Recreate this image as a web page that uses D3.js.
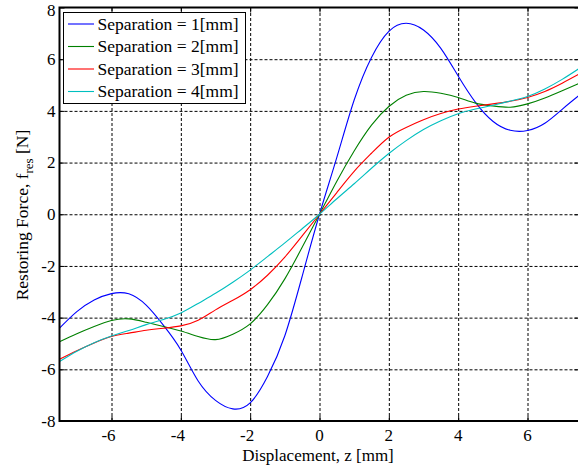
<!doctype html>
<html>
<head>
<meta charset="utf-8">
<script src="https://d3js.org/d3.v7.min.js"></script>
<style>
  body { margin: 0; background: #fff; }
  text { font-family: "Liberation Serif", "Times New Roman", serif; fill: #000; }
  .grid line { stroke: #000; stroke-width: 1; stroke-dasharray: 3,2; }
  .grid .domain { display: none; }
</style>
</head>
<body>
<script>
// displacement samples [mm]
var z = [-7.5, -7, -6.5, -6, -5.5, -5, -4.5, -4, -3.5, -3, -2.5, -2, -1.5, -1, -0.5, 0,
         0.5, 1, 1.5, 2, 2.5, 3, 3.5, 4, 4.5, 5, 5.5, 6, 6.5, 7, 7.5];

// restoring force [N] for each separation
var sep1 = [-4.41, -3.77, -3.32, -3.07, -3.08, -3.52, -4.3, -5.25, -6.45, -7.2, -7.53, -7.3, -6.28, -4.7, -2.4, 0,
            2.2, 4.42, 6.07, 7.08, 7.39, 7.13, 6.42, 5.35, 4.33, 3.6, 3.25, 3.24, 3.52, 4.06, 4.61];
var sep2 = [-4.93, -4.62, -4.34, -4.11, -4.05, -4.18, -4.34, -4.52, -4.73, -4.85, -4.64, -4.24, -3.5, -2.5, -1.28, 0,
            1.28, 2.45, 3.45, 4.17, 4.6, 4.75, 4.68, 4.52, 4.3, 4.19, 4.14, 4.27, 4.5, 4.78, 5.07];
var sep3 = [-5.61, -5.28, -4.98, -4.73, -4.6, -4.49, -4.41, -4.32, -4.1, -3.7, -3.33, -2.92, -2.36, -1.66, -0.84, 0,
            0.84, 1.66, 2.36, 2.98, 3.36, 3.66, 3.9, 4.07, 4.18, 4.27, 4.37, 4.52, 4.75, 5.07, 5.43];
var sep4 = [-5.7, -5.3, -4.97, -4.71, -4.5, -4.27, -4.07, -3.82, -3.45, -3.06, -2.63, -2.16, -1.64, -1.11, -0.56, 0,
            0.6, 1.18, 1.78, 2.35, 2.85, 3.28, 3.62, 3.89, 4.07, 4.22, 4.38, 4.56, 4.85, 5.22, 5.65];

var seriesNames = ["Separation = 1[mm]", "Separation = 2[mm]", "Separation = 3[mm]", "Separation = 4[mm]"];
var seriesColors = ["#0000ff", "#008000", "#ff0000", "#00bfbf"];
var xTicks = [-6, -4, -2, 0, 2, 4, 6];
var yTicks = [-8, -6, -4, -2, 0, 2, 4, 6, 8];

var W = 578, H = 467;
var pl = 59.5, pr = 579.5, pt = 7.5, pb = 421;
var fs = "17px";

var svg = d3.select("body").append("svg").attr("width", W).attr("height", H);

var x = d3.scaleLinear().domain([-7.5, 7.5]).range([pl, pr]);
var y = d3.scaleLinear().domain([-8, 8]).range([pb, pt]);

// grid
svg.append("g")
    .attr("class", "grid")
    .attr("transform", "translate(0," + pb + ")")
    .call(d3.axisBottom(x).tickValues(xTicks).tickSize(-(pb - pt)).tickFormat(""));
svg.append("g")
    .attr("class", "grid")
    .attr("transform", "translate(" + pl + ",0)")
    .call(d3.axisLeft(y).tickValues(yTicks.slice(1, -1)).tickSize(-(pr - pl)).tickFormat(""));

// series
var line = d3.line()
    .x(function(d){ return x(d[0]); })
    .y(function(d){ return y(d[1]); })
    .curve(d3.curveNatural);

svg.append("clipPath").attr("id", "clip")
  .append("rect").attr("x", pl).attr("y", pt).attr("width", pr - pl).attr("height", pb - pt);

[sep1, sep2, sep3, sep4].forEach(function(vals, i){
  svg.append("path")
      .datum(z.map(function(d, j){ return [d, vals[j]]; }))
      .attr("clip-path", "url(#clip)")
      .attr("fill", "none")
      .attr("stroke", seriesColors[i])
      .attr("stroke-width", 1.1)
      .attr("d", line);
});

// inner ticks on all sides
function ticks(g, axis){
  g.call(axis);
  g.select(".domain").remove();
  g.selectAll(".tick line").attr("stroke", "#000");
}
svg.append("g").attr("transform", "translate(0," + pb + ")")
    .call(ticks, d3.axisBottom(x).tickValues(xTicks).tickSize(-5).tickFormat(""));
svg.append("g").attr("transform", "translate(0," + pt + ")")
    .call(ticks, d3.axisTop(x).tickValues(xTicks).tickSize(-5).tickFormat(""));
svg.append("g").attr("transform", "translate(" + pl + ",0)")
    .call(ticks, d3.axisLeft(y).tickValues(yTicks).tickSize(-5).tickFormat(""));
svg.append("g").attr("transform", "translate(" + pr + ",0)")
    .call(ticks, d3.axisRight(y).tickValues(yTicks).tickSize(-5).tickFormat(""));

// frame
svg.append("rect")
    .attr("x", pl).attr("y", pt)
    .attr("width", pr - pl).attr("height", pb - pt)
    .attr("fill", "none").attr("stroke", "#000").attr("stroke-width", 2);

// tick labels
svg.append("g").selectAll("text")
  .data(xTicks).enter().append("text")
    .attr("x", function(d){ return x(d) - (d < 0 ? 3 : 0); })
    .attr("y", pb + 20)
    .attr("text-anchor", "middle")
    .style("font-size", fs)
    .text(function(d){ return d; });

// top label nudged down so it stays inside the picture
svg.append("g").selectAll("text")
  .data(yTicks).enter().append("text")
    .attr("x", pl - 4)
    .attr("y", function(d){ return Math.max(y(d), 10); })
    .attr("dy", "0.34em")
    .attr("text-anchor", "end")
    .style("font-size", fs)
    .text(function(d){ return d; });

// axis titles
svg.append("text")
    .attr("x", 318)
    .attr("y", 461)
    .attr("text-anchor", "middle")
    .style("font-size", fs)
    .text("Displacement, z [mm]");

var yt = svg.append("text")
    .attr("transform", "translate(28,215) rotate(-90)")
    .attr("text-anchor", "middle")
    .style("font-size", "17.5px");
yt.append("tspan").text("Restoring Force, f");
yt.append("tspan").attr("dy", 5).style("font-size", "13px").text("res");
yt.append("tspan").attr("dy", -5).text(" [N]");

// legend
var lg = svg.append("g");
lg.append("rect")
    .attr("x", 63.5).attr("y", 12.5)
    .attr("width", 182).attr("height", 91)
    .attr("fill", "#fff").attr("stroke", "#000").attr("stroke-width", 1);
seriesNames.forEach(function(name, i){
  var ry = 24 + i * 22.5;
  lg.append("line")
      .attr("x1", 68).attr("x2", 94)
      .attr("y1", ry).attr("y2", ry)
      .attr("stroke", seriesColors[i]).attr("stroke-width", 1.1);
  lg.append("text")
      .attr("x", 97.5).attr("y", ry)
      .attr("dy", "0.34em")
      .style("font-size", "17.5px")
      .text(name);
});
</script>
</body>
</html>
